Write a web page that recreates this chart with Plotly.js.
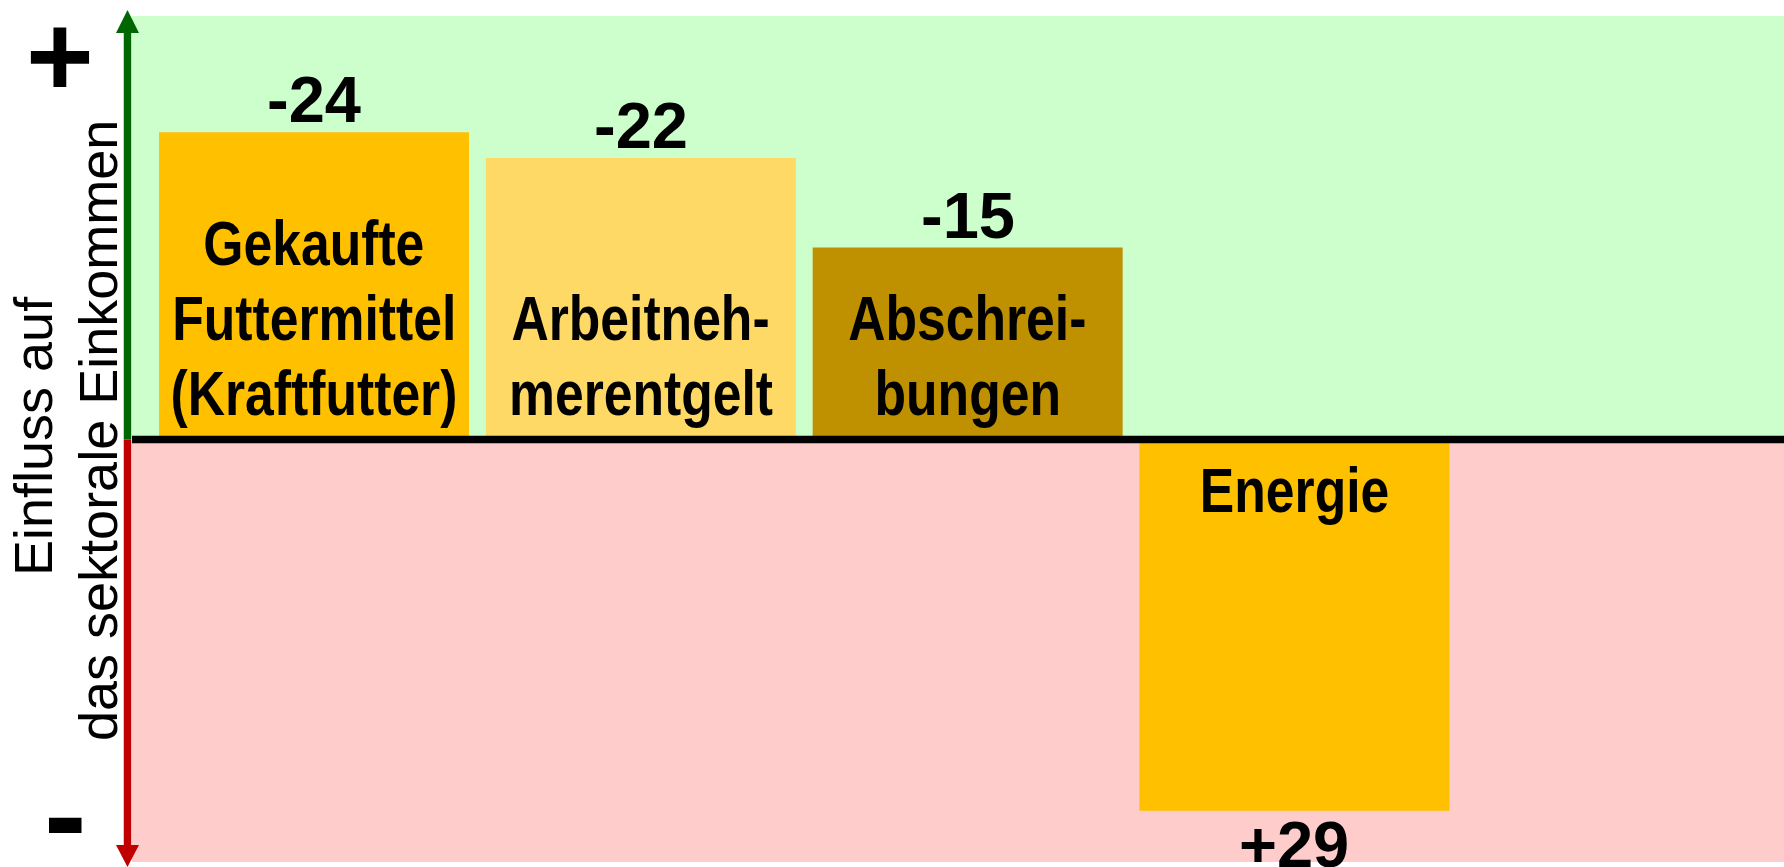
<!DOCTYPE html>
<html>
<head>
<meta charset="utf-8">
<script src="https://cdn.plot.ly/plotly-3.0.1.min.js"></script>
<style>html,body{margin:0;padding:0;background:#fff;}#chart{width:1784px;height:867px;}</style>
</head>
<body>
<div id="chart"></div>
<script>
// ---- data ----
const categories = ["Gekaufte Futtermittel (Kraftfutter)", "Arbeitnehmerentgelt", "Abschreibungen", "Energie"];
const changes = [-24, -22, -15, 29];            // change in cost (%)
const labelLines = [["Gekaufte", "Futtermittel", "(Kraftfutter)"], ["Arbeitneh-", "merentgelt"], ["Abschrei-", "bungen"], ["Energie"]];
const yTitleLines = ["Einfluss auf", "das sektorale Einkommen"];
const signLabels = ["+", "-"];
const barColors = ["#FFC000", "#FFD966", "#BF9000", "#FFC000"];

// ---- layout geometry ----
const W = 1784, H = 867;
const M = {l: 132, r: 0, t: 16, b: 5};
const pw = W - M.l - M.r, ph = H - M.t - M.b;
const px2x = p => (p - M.l) / pw;
const py2y = p => (H - M.b - p) / ph;

const impact = changes.map(v => -v);
const sans = "Liberation Sans, Arial, sans-serif";

const annotations = [];
// value labels
changes.forEach((v, i) => {
  const up = impact[i] >= 0;
  annotations.push({
    xref: "x", yref: "y", x: categories[i], y: impact[i],
    text: (v > 0 ? "+" : "") + v, showarrow: false,
    xanchor: "center", yanchor: up ? "bottom" : "top",
    yshift: up ? -6 : 5,
    font: {family: sans, size: 65, color: "#000", weight: 700}
  });
});
// category labels inside bars (narrow bold)
const narrowIdx = [];
labelLines.forEach((lines, i) => {
  const up = impact[i] >= 0;
  const n = lines.length;
  lines.forEach((t, k) => {
    narrowIdx.push(annotations.length);
    annotations.push({
      xref: "x", yref: "y", x: categories[i], y: 0,
      text: t, showarrow: false, xanchor: "center",
      yanchor: up ? "bottom" : "top",
      yshift: up ? 10 + 75 * (n - 1 - k) : -13 - 75 * k,
      font: {family: sans, size: 63, color: "#000", weight: 700}
    });
  });
});
// y title (two rotated lines)
[[33, 436], [98, 431]].forEach((p, i) => {
  annotations.push({
    xref: "paper", yref: "paper", x: px2x(p[0]), y: py2y(p[1]),
    text: yTitleLines[i], textangle: -90, showarrow: false,
    xanchor: "center", yanchor: "middle",
    font: {family: sans, size: 54, color: "#000"}
  });
});
// plus / minus
annotations.push({xref: "paper", yref: "paper", x: px2x(59.5), y: py2y(56), text: signLabels[0], showarrow: false,
  xanchor: "center", yanchor: "middle", font: {family: sans, size: 116, color: "#000", weight: 700}});
annotations.push({xref: "paper", yref: "paper", x: px2x(65.5), y: py2y(814), text: signLabels[1], showarrow: false,
  xanchor: "center", yanchor: "middle", font: {family: sans, size: 128, color: "#000", weight: 700}});

const yTop = 33.09, yBot = -33.0;
const ax = px2x(127.5), axL = px2x(116), axR = px2x(139);
const shapes = [
  {type: "rect", layer: "below", xref: "paper", yref: "y", x0: 0, x1: 1, y0: 0, y1: yTop, fillcolor: "#CCFFCC", line: {width: 0}},
  {type: "rect", layer: "below", xref: "paper", yref: "y", x0: 0, x1: 1, y0: yBot, y1: 0, fillcolor: "#FFCCCC", line: {width: 0}},
  {type: "line", layer: "above", xref: "paper", yref: "y", x0: 0, x1: 1, y0: 0, y1: 0, line: {color: "#000", width: 7.5}},
  // green arrow up
  {type: "line", xref: "paper", yref: "paper", x0: ax, x1: ax, y0: py2y(439.5), y1: py2y(30), line: {color: "#006600", width: 7.5}},
  {type: "path", xref: "paper", yref: "paper", path: `M ${axL},${py2y(33)} L ${ax},${py2y(10)} L ${axR},${py2y(33)} Z`, fillcolor: "#006600", line: {width: 0}},
  // red arrow down
  {type: "line", xref: "paper", yref: "paper", x0: ax, x1: ax, y0: py2y(439.5), y1: py2y(848), line: {color: "#C00000", width: 7.5}},
  {type: "path", xref: "paper", yref: "paper", path: `M ${axL},${py2y(845)} L ${ax},${py2y(867)} L ${axR},${py2y(845)} Z`, fillcolor: "#C00000", line: {width: 0}}
];

const trace = {
  type: "bar", x: categories, y: impact, width: 0.9486,
  marker: {color: barColors, line: {width: 0}},
  hoverinfo: "none", showlegend: false
};

const layout = {
  width: W, height: H, margin: M,
  paper_bgcolor: "#fff", plot_bgcolor: "#fff",
  xaxis: {type: "category", range: [-0.5571, 4.498], showticklabels: false, showgrid: false, zeroline: false, showline: false, ticks: ""},
  yaxis: {range: [yBot, yTop], showticklabels: false, showgrid: false, zeroline: false, showline: false, ticks: ""},
  shapes: shapes, annotations: annotations, showlegend: false
};

function narrowLabels() {
  const gd = document.getElementById("chart");
  gd.querySelectorAll("g.annotation").forEach(g => {
    const idx = +g.getAttribute("data-index");
    if (narrowIdx.indexOf(idx) >= 0) {
      const t = g.querySelector("text.annotation-text");
      if (t) {
        t.style.transformBox = "fill-box";
        t.style.transformOrigin = "center";
        t.style.transform = "scaleX(0.82)";
      }
    }
  });
}

const gd = document.getElementById("chart");
Plotly.newPlot(gd, [trace], layout, {staticPlot: true, displayModeBar: false}).then(() => {
  narrowLabels();
  gd.on("plotly_afterplot", narrowLabels);
});
</script>
</body>
</html>
